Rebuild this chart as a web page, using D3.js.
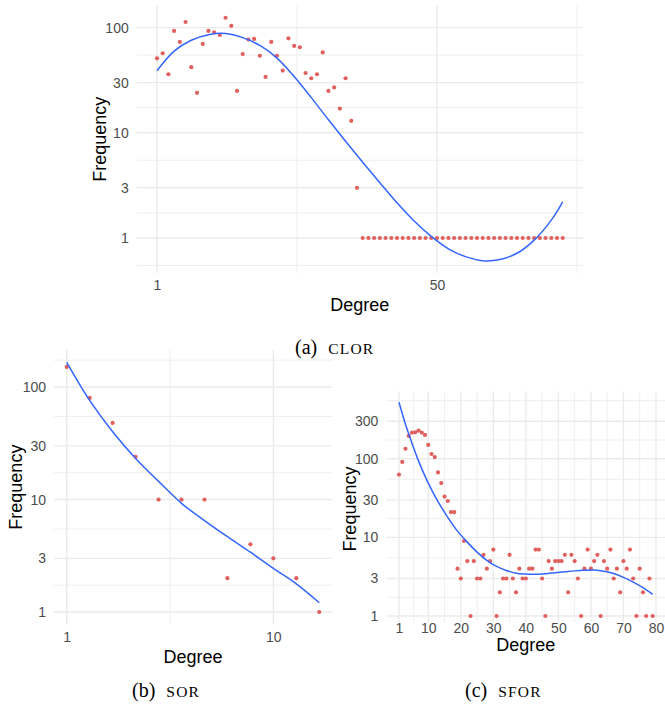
<!DOCTYPE html>
<html>
<head>
<meta charset="utf-8">
<script src="https://cdn.jsdelivr.net/npm/d3@7"></script>
<style>
  body { margin: 0; background: #fff; }
  svg { display: block; }
</style>
</head>
<body>
<div id="chart"></div>
<script>
const width = 665;
const height = 713;

// (a) CLOR
const clorDegree = [1,2,3,4,5,6,7,8,9,10,11,12,13,14,15,16,17,18,19,20,21,22,23,24,25,26,27,28,29,30,31,32,33,34,35,36,
    37,38,39,40,41,42,43,44,45,46,47,48,49,50,51,52,53,54,55,56,57,58,59,60,61,62,63,64,65,66,67,68,69,70,71,72];
const clorFreq = [51,57,36,93,73,113,42,24,70,93,90,85,124,104,25,56,77,78,54,34,73,54,39,79,67,65,37,33,36,58,25,27,17,33,13,3,
    1,1,1,1,1,1,1,1,1,1,1,1,1,1,1,1,1,1,1,1,1,1,1,1,1,1,1,1,1,1,1,1,1,1,1,1];
const clorFitDegree = [1,4,7,10,13,16,19,22,25,28,31,34,37,40,43,46,49,52,55,58,61,64,67,70,72];
const clorFitFreq = [38.9,59.8,75.7,85.5,87.9,80.2,67.6,51.3,34.3,21.6,13.3,8.3,5.25,3.35,2.16,1.45,1.035,0.79,0.665,0.608,0.624,0.716,0.955,1.48,2.21];
const clorXTicks = [1, 50];

// (b) SOR
const sorDegree = [1,2,3,4,5,6,7,8,9,10,11,12];
const sorFreq = [151,80,48,24,10,10,10,2,4,3,2,1];
const sorFitDegree = [1,2,3,4,5,6,7,8,9,10,11,12];
const sorFitFreq = [166,76,40,23.2,14.5,9.25,6.5,4.67,3.4,2.44,1.78,1.21];
const sorXTicks = [1, 10];

// (c) SFOR
const sforDegree = [1,2,3,4,5,6,7,8,9,10,11,12,13,14,15,16,17,18,19,20,21,22,23,24,25,26,27,28,29,30,31,32,33,34,35,36,37,38,39,40,
    41,42,43,44,45,46,47,48,49,50,51,52,53,54,55,56,57,58,59,60,61,62,63,64,65,66,67,68,69,70,71,72,73,74,75,76,77,78,79];
const sforFreq = [63,91,134,195,215,217,228,215,201,150,115,105,67,49,33,29,21,21,4,3,9,5,1,5,3,3,6,4,5,7,1,2,3,3,6,3,2,4,3,3,
    4,4,7,7,3,1,5,4,5,5,5,6,2,6,5,3,1,4,7,4,5,6,1,5,4,7,3,4,2,5,4,7,3,1,4,2,1,3,1];
const sforFitDegree = [1,3,5,7,10,13,16,19,22,25,28,31,34,37,40,43,46,49,52,55,58,61,64,67,70,73,76,79];
const sforFitFreq = [524,275,158,94,49,28.5,18,12,8.7,6.5,5.1,4.27,3.8,3.5,3.41,3.39,3.45,3.55,3.65,3.75,3.82,3.84,3.72,3.47,3.1,2.7,2.29,1.88];
const sforXTicks = [1,10,20,30,40,50,60,70,80];

const yTicks = [1, 3, 10, 30, 100, 300];
const yBreaksAll = [0.3, 1, 3, 10, 30, 100, 300, 1000];

const pointColor = "#e0605e";
const lineColor = "#3366ff";
const gridColor = "#ebebeb";

const svg = d3.select("#chart")
    .append("svg")
    .attr("width", width)
    .attr("height", height);

function drawPanel(p) {
    const g = svg.append("g");

    // ggplot style 5% expansion, y in log space
    const xExt = d3.extent(p.degree);
    const xPad = (xExt[1] - xExt[0]) * 0.05;
    const logs = p.freq.concat(p.fitFreq).map(v => Math.log10(v));
    const lo = d3.min(logs), hi = d3.max(logs);
    const yPad = (hi - lo) * 0.05;

    const x = d3.scaleLinear()
        .domain([xExt[0] - xPad, xExt[1] + xPad])
        .range([p.left, p.right]);
    const y = d3.scaleLog()
        .domain([Math.pow(10, lo - yPad), Math.pow(10, hi + yPad)])
        .range([p.bottom, p.top]);

    const [x0, x1] = x.domain();
    const [y0, y1] = y.domain();
    const gridBottom = p.gridBottom || p.bottom;

    // minor breaks halfway between majors
    const xMinor = [];
    const step = p.xTicks[1] - p.xTicks[0];
    const xb = [p.xTicks[0] - step].concat(p.xTicks, [p.xTicks[p.xTicks.length - 1] + step]);
    for (let i = 0; i < xb.length - 1; i++) xMinor.push((xb[i] + xb[i + 1]) / 2);
    const yMinor = [];
    for (let i = 0; i < yBreaksAll.length - 1; i++) yMinor.push(Math.sqrt(yBreaksAll[i] * yBreaksAll[i + 1]));

    g.selectAll(".xminor").data(xMinor.filter(d => d >= x0 && d <= x1)).join("line")
        .attr("x1", d => x(d)).attr("x2", d => x(d))
        .attr("y1", p.top).attr("y2", gridBottom)
        .attr("stroke", gridColor).attr("stroke-width", 0.8);
    g.selectAll(".yminor").data(yMinor.filter(d => d >= y0 && d <= y1 && y(d) <= gridBottom)).join("line")
        .attr("y1", d => y(d)).attr("y2", d => y(d))
        .attr("x1", p.left).attr("x2", p.right)
        .attr("stroke", gridColor).attr("stroke-width", 0.8);
    g.selectAll(".xmajor").data(p.xTicks.filter(d => d >= x0 && d <= x1)).join("line")
        .attr("x1", d => x(d)).attr("x2", d => x(d))
        .attr("y1", p.top).attr("y2", gridBottom)
        .attr("stroke", gridColor).attr("stroke-width", 1.4);
    g.selectAll(".ymajor").data(yTicks.filter(d => d >= y0 && d <= y1)).join("line")
        .attr("y1", d => y(d)).attr("y2", d => y(d))
        .attr("x1", p.left).attr("x2", p.right)
        .attr("stroke", gridColor).attr("stroke-width", 1.4);

    // axes (labels only)
    const xAxis = g.append("g")
        .attr("transform", `translate(0,${p.xAxisY})`)
        .call(d3.axisBottom(x).tickValues(p.xTicks.filter(d => d >= x0 && d <= x1)).tickSize(0).tickFormat(d3.format("d")));
    const yAxis = g.append("g")
        .attr("transform", `translate(${p.left - 5},0)`)
        .call(d3.axisLeft(y).tickValues(yTicks.filter(d => d >= y0 && d <= y1)).tickSize(0).tickFormat(d3.format("d")));
    [xAxis, yAxis].forEach(a => {
        a.select(".domain").remove();
        a.selectAll("text")
            .attr("fill", "#4d4d4d")
            .style("font-family", "'Liberation Sans', Arial, sans-serif")
            .style("font-size", "14px");
    });

    // points
    g.selectAll(".pt").data(p.degree).join("circle")
        .attr("cx", d => x(d))
        .attr("cy", (d, i) => y(p.freq[i]))
        .attr("r", 2.1)
        .attr("fill", pointColor);

    // smooth fit
    const line = d3.line()
        .x(d => x(d[0]))
        .y(d => y(d[1]))
        .curve(d3.curveCatmullRom);
    g.append("path")
        .datum(p.fitDegree.map((d, i) => [d, p.fitFreq[i]]))
        .attr("d", line)
        .attr("fill", "none")
        .attr("stroke", lineColor)
        .attr("stroke-width", 1.5);

    // axis titles
    g.append("text")
        .attr("x", (p.left + p.right) / 2)
        .attr("y", p.xTitleY)
        .attr("text-anchor", "middle")
        .style("font-family", "'Liberation Sans', Arial, sans-serif")
        .style("font-size", "18px")
        .text("Degree");
    g.append("text")
        .attr("transform", `translate(${p.yTitleX},${(p.top + p.bottom) / 2}) rotate(-90)`)
        .attr("text-anchor", "middle")
        .style("font-family", "'Liberation Sans', Arial, sans-serif")
        .style("font-size", "18px")
        .text("Frequency");

    // caption
    const cap = svg.append("text")
        .attr("x", p.capX)
        .attr("y", p.capY)
        .style("font-family", "'Liberation Serif', 'Times New Roman', serif")
        .attr("fill", "#000");
    cap.append("tspan").style("font-size", "20px").text(p.capLetter);
    cap.append("tspan").attr("dx", 11).style("font-size", "15.5px").style("letter-spacing", "1.2px").text(p.capName);
}

drawPanel({
    degree: clorDegree, freq: clorFreq, fitDegree: clorFitDegree, fitFreq: clorFitFreq, xTicks: clorXTicks,
    left: 136.7, right: 583, top: 5.6, bottom: 272.9, xAxisY: 277.5,
    xTitleY: 311, yTitleX: 106,
    capLetter: "(a)", capName: "CLOR", capX: 295, capY: 354
});
drawPanel({
    degree: sorDegree, freq: sorFreq, fitDegree: sorFitDegree, fitFreq: sorFitFreq, xTicks: sorXTicks,
    left: 54.1, right: 331.9, top: 349.8, bottom: 624.5, xAxisY: 629,
    xTitleY: 663, yTitleX: 22,
    capLetter: "(b)", capName: "SOR", capX: 132, capY: 697
});
drawPanel({
    degree: sforDegree, freq: sforFreq, fitDegree: sforFitDegree, fitFreq: sforFitFreq, xTicks: sforXTicks,
    left: 386.3, right: 665.4, top: 391.5, bottom: 626.7, gridBottom: 622, xAxisY: 620,
    xTitleY: 651, yTitleX: 356,
    capLetter: "(c)", capName: "SFOR", capX: 465, capY: 697
});
</script>
</body>
</html>
